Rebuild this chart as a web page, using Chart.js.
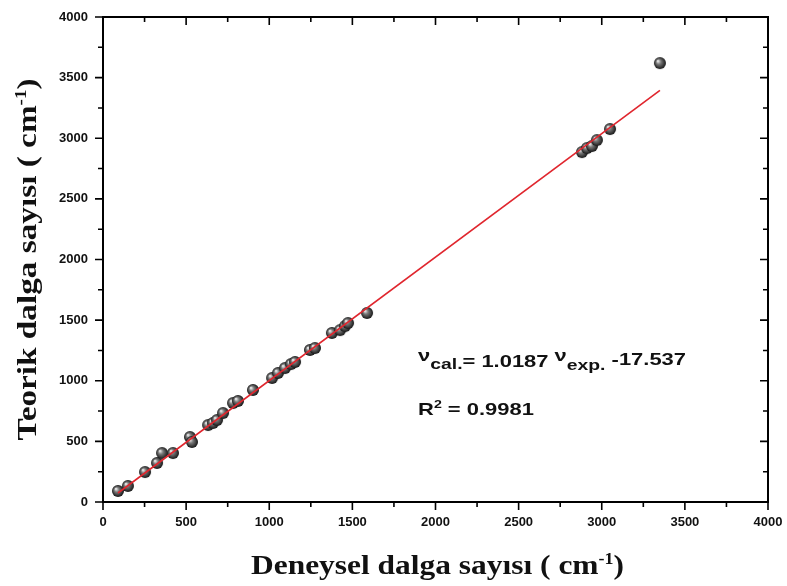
<!DOCTYPE html>
<html>
<head>
<meta charset="utf-8">
<script src="https://cdn.jsdelivr.net/npm/chart.js@4/dist/chart.umd.min.js"></script>
<style>
  html, body { margin: 0; padding: 0; background: #fff; }
</style>
</head>
<body>
<canvas id="dalgaChart" width="787" height="586"></canvas>
<script>
// Deneysel (x) ve teorik (y) dalga sayıları, cm-1
const deneysel = [90, 150, 253, 325, 355, 421, 523, 535, 632, 662, 686, 722, 782, 812, 902,
  1017, 1053, 1095, 1131, 1155, 1245, 1275, 1377, 1426, 1456, 1474, 1588,
  2881, 2911, 2941, 2971, 3050, 3350];
const teorik = [91, 132, 247, 322, 404, 404, 536, 495, 635, 652, 676, 734, 816, 833, 924,
  1023, 1064, 1105, 1138, 1155, 1254, 1270, 1394, 1418, 1451, 1476, 1559,
  2886, 2919, 2936, 2985, 3076, 3620];

// Doğrusal uyum: v_cal = egim * v_exp + kesen
const egim = 1.0187;
const kesen = -17.537;
const r2 = 0.9981;

const noktalar = deneysel.map((x, i) => ({ x: x, y: teorik[i] }));
const xMin = Math.min(...deneysel), xMax = Math.max(...deneysel);
const uyumCizgisi = [xMin, xMax].map(x => ({ x: x, y: egim * x + kesen }));

// gri küre şeklinde nokta
function kure(r) {
  const c = document.createElement('canvas');
  c.width = c.height = r * 2 + 2;
  const g = c.getContext('2d');
  const m = r + 1;
  const grad = g.createRadialGradient(m - r * 0.35, m - r * 0.35, 0.5, m, m, r);
  grad.addColorStop(0, '#e6e6e6');
  grad.addColorStop(0.35, '#7a7a7a');
  grad.addColorStop(1, '#151515');
  g.fillStyle = grad;
  g.beginPath();
  g.arc(m, m, r, 0, Math.PI * 2);
  g.fill();
  return c;
}

const sansBold = '"Liberation Sans", Arial, sans-serif';
const serifBold = '"Liberation Serif", "Times New Roman", serif';

// parçalı yazı: [metin, boyut, dikey kayma]; sx yatay germe
function parcaGenislik(ctx, parcalar, aile) {
  let w = 0;
  parcalar.forEach(([t, size]) => {
    ctx.font = 'bold ' + size + 'px ' + aile;
    w += ctx.measureText(t).width;
  });
  return w;
}
function parcaYaz(ctx, parcalar, aile, x0, y0, sx) {
  let cx = x0;
  parcalar.forEach(([t, size, dy]) => {
    ctx.font = 'bold ' + size + 'px ' + aile;
    ctx.save();
    ctx.translate(cx, y0 + dy);
    ctx.scale(sx, 1);
    ctx.fillText(t, 0, 0);
    ctx.restore();
    cx += ctx.measureText(t).width * sx;
  });
}

// eksen başlıkları, çerçeve, tik çizgileri ve denklem yazısı
const cerceve = {
  id: 'cerceve',
  afterDraw(chart) {
    const { ctx, chartArea: a, scales: { x, y } } = chart;
    ctx.save();
    ctx.strokeStyle = '#000';
    ctx.lineWidth = 2;
    ctx.strokeRect(a.left, a.top, a.right - a.left, a.bottom - a.top);
    ctx.lineWidth = 1.6;
    ctx.beginPath();
    for (let v = 0; v <= 4000; v += 250) {
      const len = v % 500 === 0 ? 8 : 5;
      const px = x.getPixelForValue(v), py = y.getPixelForValue(v);
      ctx.moveTo(px, a.bottom); ctx.lineTo(px, a.bottom + len);
      ctx.moveTo(px, a.top); ctx.lineTo(px, a.top + len);
      ctx.moveTo(a.left, py); ctx.lineTo(a.left - len, py);
      ctx.moveTo(a.right, py); ctx.lineTo(a.right - len, py);
    }
    ctx.stroke();

    ctx.fillStyle = '#111';
    ctx.textBaseline = 'alphabetic';

    // eksen başlıkları
    const xBaslik = [['Deneysel dalga sayısı ( cm', 28, 0], ['-1', 16, -10], [')', 28, 0]];
    const yBaslik = [['Teorik dalga sayısı ( cm', 28, 0], ['-1', 16, -10], [')', 28, 0]];
    let w = parcaGenislik(ctx, xBaslik, serifBold);
    let sx = 373 / w;
    parcaYaz(ctx, xBaslik, serifBold, (a.left + a.right) / 2 + 2 - 373 / 2, 574, sx);
    w = parcaGenislik(ctx, yBaslik, serifBold);
    sx = 362 / w;
    ctx.save();
    ctx.translate(36, (a.top + a.bottom) / 2);
    ctx.rotate(-Math.PI / 2);
    parcaYaz(ctx, yBaslik, serifBold, -362 / 2, 0, sx);
    ctx.restore();

    // uyum denklemi
    const ex = x.getPixelForValue(1895);
    parcaYaz(ctx, [
      ['ν', 17, -6], ['cal.', 15, 2], ['= ' + egim.toFixed(4) + ' ', 17, 0],
      ['ν', 17, -6], ['exp.', 15, 3], [' ' + kesen.toFixed(3), 17, -2]
    ], sansBold, ex, y.getPixelForValue(1113), 1.29);
    parcaYaz(ctx, [
      ['R', 17, 0], ['2', 11, -7], [' = ' + r2.toFixed(4), 17, 0]
    ], sansBold, ex, y.getPixelForValue(717), 1.29);
    ctx.restore();
  }
};

function kenarSifirla(s) {
  s.paddingLeft = 0; s.paddingRight = 0; s.paddingTop = 0; s.paddingBottom = 0;
}

const ctx = document.getElementById('dalgaChart');
new Chart(ctx, {
  type: 'scatter',
  data: {
    datasets: [
      {
        type: 'line',
        data: uyumCizgisi,
        borderColor: '#e0262e',
        borderWidth: 1.6,
        pointRadius: 0,
        fill: false,
        order: 0
      },
      {
        data: noktalar,
        pointStyle: kure(6),
        pointRadius: 6,
        order: 1
      }
    ]
  },
  options: {
    responsive: false,
    animation: false,
    layout: { padding: { top: 17, right: 19, left: 0, bottom: 0 } },
    plugins: { legend: { display: false }, tooltip: { enabled: false } },
    scales: {
      x: {
        type: 'linear',
        min: 0, max: 4000,
        afterFit(s) { s.height = 84; kenarSifirla(s); },
        grid: { display: false, drawTicks: false },
        border: { display: false },
        ticks: {
          stepSize: 500,
          padding: 13,
          color: '#111',
          font: { family: sansBold, size: 13, weight: 'bold' },
          callback: v => String(v)
        }
      },
      y: {
        type: 'linear',
        min: 0, max: 4000,
        afterFit(s) { s.width = 103; kenarSifirla(s); },
        grid: { display: false, drawTicks: false },
        border: { display: false },
        ticks: {
          stepSize: 500,
          padding: 15,
          color: '#111',
          font: { family: sansBold, size: 13, weight: 'bold' },
          callback: v => String(v)
        }
      }
    }
  },
  plugins: [cerceve]
});
</script>
</body>
</html>
